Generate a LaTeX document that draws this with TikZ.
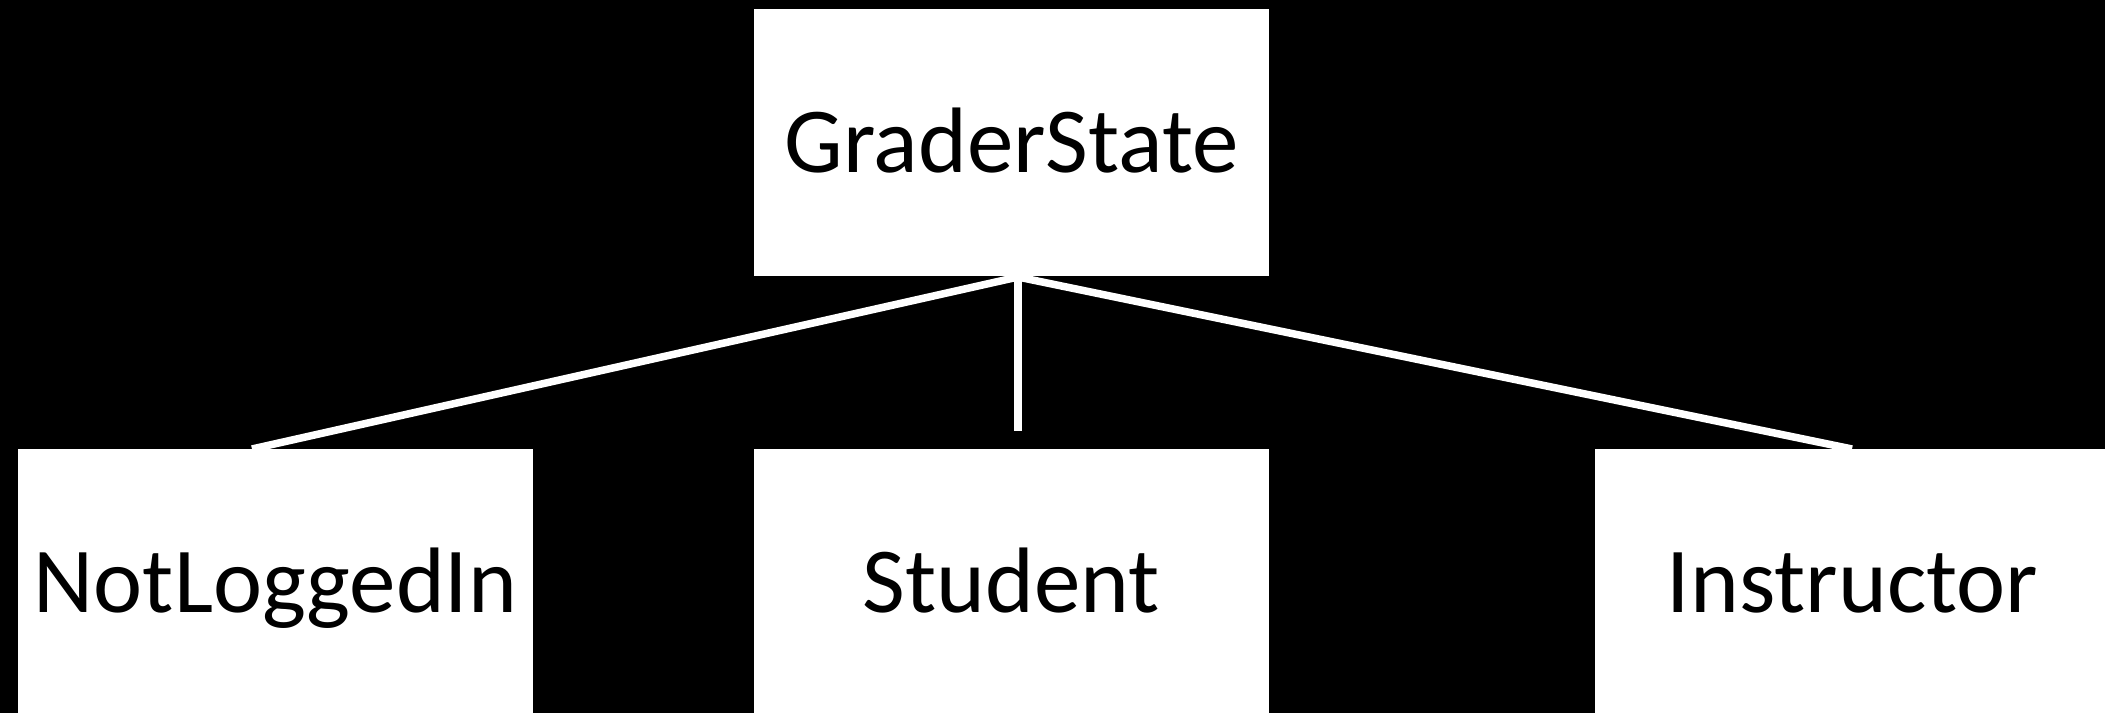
\documentclass[tikz,border=0pt]{standalone}
\usepackage{fontspec}
\setmainfont{Carlito}
\begin{document}
\begin{tikzpicture}[x=1pt,y=-1pt,
  statebox/.style={draw=none,fill=white,inner sep=0pt,
    minimum width=515pt,minimum height=267pt,
    text height=60pt,text depth=0pt,
    font=\fontsize{93}{93}\selectfont},
  link/.style={draw=white,line width=7.5pt}]
  \fill[black] (0,0) rectangle (2105,713);
  \useasboundingbox (0,0) rectangle (2105,713);
  \clip (0,0) rectangle (2105,713);

  % connectors from the base class to its subclasses
  \coordinate (hub) at (1018,277);
  \coordinate (endL) at (252,449);
  \coordinate (endM) at (1018,431);
  \coordinate (endR) at (1852,449);
  \draw[link] (hub) -- (endL);
  \draw[link] (hub) -- (endM);
  \draw[link] (hub) -- (endR);

  % state boxes
  \node[statebox] (grader)  at (1011.5,142.5) {GraderState};
  \node[statebox] (nli)     at (275.5,582.5)  {NotLoggedIn};
  \node[statebox] (student) at (1011.5,582.5) {Student};
  \node[statebox] (instr)   at (1852.5,582.5) {Instructor};
\end{tikzpicture}
\end{document}
